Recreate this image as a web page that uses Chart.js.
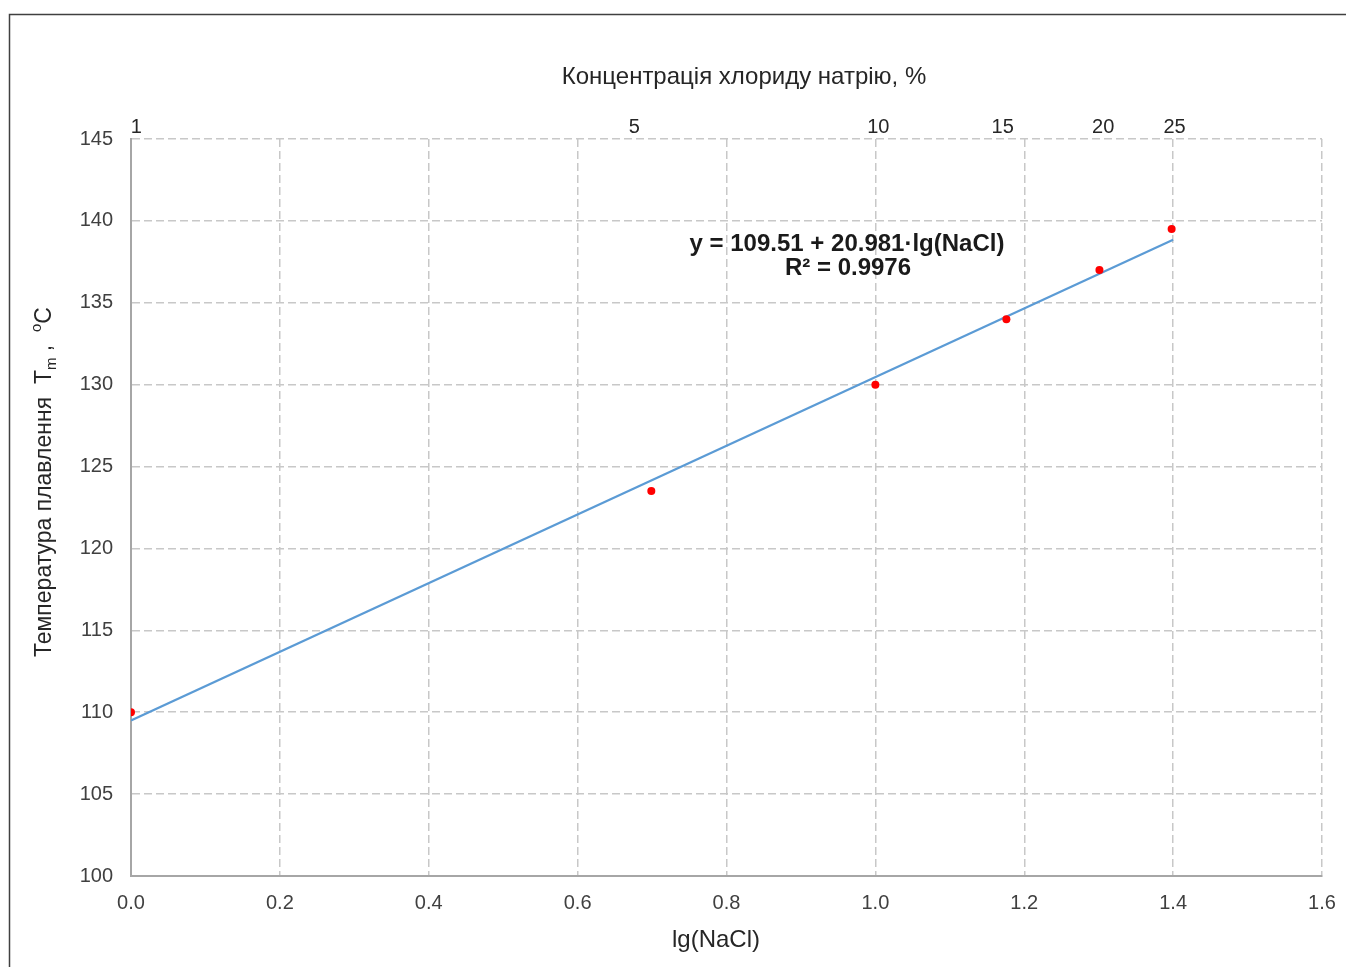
<!DOCTYPE html>
<html>
<head>
<meta charset="utf-8">
<script src="https://cdn.jsdelivr.net/npm/chart.js@4.4.0/dist/chart.umd.min.js"></script>
<style>
  html, body { margin: 0; padding: 0; background: #fff; }
  #wrap { width: 1346px; height: 967px; position: relative; }
</style>
</head>
<body>
<div id="wrap"><canvas id="chart" width="1346" height="967"></canvas></div>
<script>
// measured points: lg of NaCl concentration vs melting temperature
const lgNaCl = [0, 0.699, 1.0, 1.176, 1.301, 1.398];
const meltTemp = [110, 123.5, 130, 134, 137, 139.5];

// trend line ends
const fitX = [0, 1.4];
const fitY = [109.5, 138.85];

// top axis: concentration in %, placed where the picture has them
const topTickLabels = ['1', '5', '10', '15', '20', '25'];
const topTickPos = [0.007, 0.676, 1.004, 1.171, 1.306, 1.402];

const FONT = "'Liberation Sans', Arial, sans-serif";
Chart.defaults.font.family = FONT;

const decor = {
    id: 'decor',
    afterDraw(chart) {
        const ctx = chart.ctx;
        ctx.save();

        // frame round the figure (top and left edges only are visible)
        ctx.strokeStyle = '#404040';
        ctx.lineWidth = 1.5;
        ctx.beginPath();
        ctx.moveTo(1346, 14.5);
        ctx.lineTo(9.5, 14.5);
        ctx.lineTo(9.5, 967);
        ctx.stroke();

        // top title
        ctx.fillStyle = '#262626';
        ctx.textAlign = 'center';
        ctx.textBaseline = 'middle';
        ctx.font = '24px ' + FONT;
        ctx.fillText('Концентрація хлориду натрію, %', 744, 77);

        // bottom title
        ctx.font = '24px ' + FONT;
        ctx.fillText('lg(NaCl)', 716, 940);

        // regression label
        ctx.font = 'bold 24px ' + FONT;
        ctx.fillStyle = '#1a1a1a';
        ctx.fillText('y = 109.51 + 20.981·lg(NaCl)', 847, 244);
        ctx.fillText('R² = 0.9976', 848, 268);

        // y title with subscript and degree sign
        ctx.translate(45, 657);
        ctx.rotate(-Math.PI / 2);
        ctx.textAlign = 'left';
        ctx.fillStyle = '#262626';
        let x = 0;
        const part = (txt, size, dy) => {
            ctx.font = size + 'px ' + FONT;
            ctx.fillText(txt, x, dy);
            x += ctx.measureText(txt).width;
        };
        part('Температура плавлення  T', 23, 0);
        part('m', 15, 7);
        part(' ,  ', 23, 0);
        part('o', 15, -8);
        part('C', 23, 0);

        ctx.restore();
    }
};

const gridStyle = {
    color: '#c8c8c8',
    lineWidth: 1.5,
    drawTicks: false
};
const borderStyle = {
    color: '#a6a6a6',
    width: 2,
    dash: [8, 4]
};

// keep the plot edges fixed: no extra room for overhanging end labels
const noSidePad = s => {
    s.paddingLeft = 0;
    s.paddingRight = 0;
};

new Chart(document.getElementById('chart'), {
    type: 'scatter',
    data: {
        datasets: [
            {
                label: 'Tm',
                data: lgNaCl.map((v, i) => ({ x: v, y: meltTemp[i] })),
                pointRadius: 4,
                pointBackgroundColor: '#ff0000',
                pointBorderWidth: 0,
                showLine: false,
                order: 0
            },
            {
                label: 'fit',
                data: fitX.map((v, i) => ({ x: v, y: fitY[i] })),
                borderColor: '#5b9bd5',
                borderWidth: 2.2,
                pointRadius: 0,
                showLine: true,
                order: 1
            }
        ]
    },
    options: {
        responsive: false,
        animation: false,
        layout: { padding: { left: 0, right: 24, top: 0, bottom: 0 } },
        plugins: {
            legend: { display: false },
            tooltip: { enabled: false }
        },
        scales: {
            x: {
                type: 'linear',
                position: 'bottom',
                min: 0,
                max: 1.6,
                ticks: {
                    stepSize: 0.2,
                    maxRotation: 0,
                    padding: 15,
                    color: '#404040',
                    font: { size: 20 },
                    callback: v => v.toFixed(1)
                },
                grid: gridStyle,
                border: borderStyle,
                afterFit: s => { s.height = 91; noSidePad(s); }
            },
            x2: {
                type: 'linear',
                position: 'top',
                min: 0,
                max: 1.6,
                ticks: {
                    autoSkip: false,
                    maxRotation: 0,
                    padding: 0,
                    color: '#262626',
                    font: { size: 20 },
                    callback: (v, i) => topTickLabels[i]
                },
                afterBuildTicks: s => { s.ticks = topTickPos.map(v => ({ value: v })); },
                grid: { display: false, drawTicks: false },
                border: { display: false },
                afterFit: s => { s.height = 139; noSidePad(s); }
            },
            y: {
                min: 100,
                max: 145,
                ticks: {
                    stepSize: 5,
                    padding: 18,
                    color: '#404040',
                    font: { size: 20 }
                },
                grid: gridStyle,
                border: borderStyle,
                afterFit: s => { s.width = 131; }
            }
        }
    },
    plugins: [decor]
});
</script>
</body>
</html>
